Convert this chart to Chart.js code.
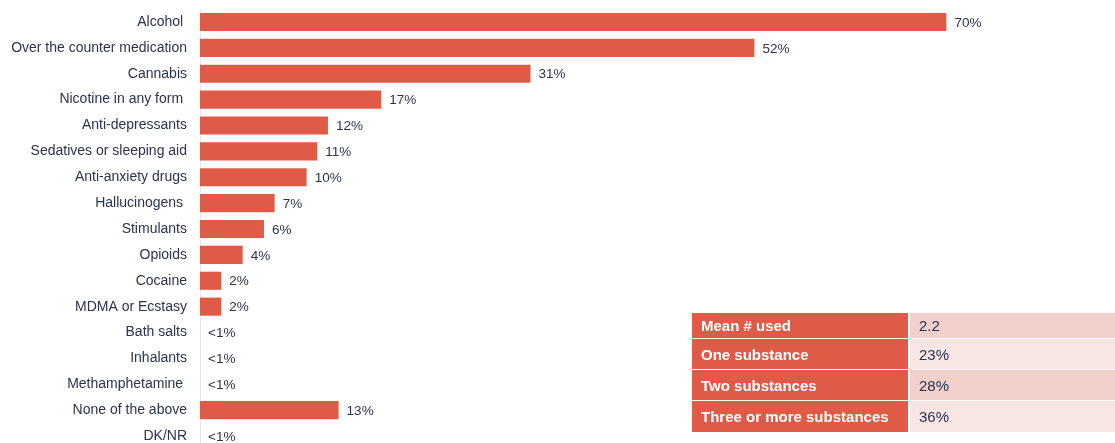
<!DOCTYPE html>
<html>
<head>
<meta charset="utf-8">
<script src="https://cdn.jsdelivr.net/npm/chart.js@4/dist/chart.umd.min.js"></script>
<style>
  html, body { margin: 0; padding: 0; background: #fff; overflow: hidden; }
  #wrap { position: relative; width: 1115px; height: 450px; }
  #summary {
    position: absolute; left: 692px; top: 312px; width: 440px;
    border-collapse: collapse; font-family: "Liberation Sans", Arial, sans-serif; font-size: 15px;
  }
  #summary td { padding: 0 0 0 9px; border-top: 1px solid #fff; border-bottom: 1px solid #fff; }
  #summary td.k { background: #e05a48; color: #fff; font-weight: bold; width: 207px; border-right: 2px solid #fff; }
  #summary td.v { color: #2b3350; }
</style>
</head>
<body>
<div id="wrap">
  <canvas id="Substances" width="1115" height="450"></canvas>
  <table id="summary"></table>
</div>
<script>
var substances = [
  "Alcohol ",
  "Over the counter medication",
  "Cannabis",
  "Nicotine in any form ",
  "Anti-depressants",
  "Sedatives or sleeping aid",
  "Anti-anxiety drugs",
  "Hallucinogens ",
  "Stimulants",
  "Opioids",
  "Cocaine",
  "MDMA or Ecstasy",
  "Bath salts",
  "Inhalants",
  "Methamphetamine ",
  "None of the above",
  "DK/NR",
];
var percentUsed = [70, 52, 31, 17, 12, 11, 10, 7, 6, 4, 2, 2, 0, 0, 0, 13, 0];
var percentLabels = ["70%", "52%", "31%", "17%", "12%", "11%", "10%", "7%", "6%", "4%", "2%", "2%", "<1%", "<1%", "<1%", "13%", "<1%"];

var summaryRows = ["Mean # used", "One substance", "Two substances", "Three or more substances"];
var summaryValues = ["2.2", "23%", "28%", "36%"];

// table bottom right
var rowHeights = [26, 31, 31, 32];
var shades = ["#f2d0cc", "#f8e6e4", "#f2d0cc", "#f8e6e4"];
var table = document.getElementById("summary");
summaryRows.forEach(function (name, i) {
  var tr = document.createElement("tr");
  tr.style.height = rowHeights[i] + "px";
  tr.innerHTML = '<td class="k">' + name + '</td><td class="v" style="background:' + shades[i] + '">' + summaryValues[i] + "</td>";
  table.appendChild(tr);
});

// value labels at the end of each bar
var barLabels = {
  id: "barLabels",
  afterDatasetsDraw: function (chart) {
    var ctx = chart.ctx;
    var meta = chart.getDatasetMeta(0);
    ctx.save();
    ctx.font = "13.5px 'Liberation Sans', Arial, sans-serif";
    ctx.fillStyle = "#2b3350";
    ctx.textAlign = "left";
    ctx.textBaseline = "middle";
    meta.data.forEach(function (bar, i) {
      ctx.fillText(percentLabels[i], bar.x + 8, bar.y + 1);
    });
    ctx.restore();
  },
};

var ctx = document.getElementById("Substances").getContext("2d");
var myChart = new Chart(ctx, {
  type: "bar",
  data: {
    labels: substances,
    datasets: [
      {
        data: percentUsed,
        backgroundColor: "#e05a48",
        barPercentage: 0.7,
        categoryPercentage: 1,
      },
    ],
  },
  options: {
    indexAxis: "y",
    responsive: false,
    animation: false,
    layout: { padding: { top: 9, right: 62, bottom: 1, left: 0 } },
    scales: {
      x: {
        display: false,
        min: 0,
        max: 80,
      },
      y: {
        grid: { display: false, drawTicks: false },
        border: { display: true, color: "#e6e6e6", width: 1 },
        ticks: {
          color: "#2b3350",
          padding: 13,
          font: { family: "'Liberation Sans', Arial, sans-serif", size: 14 },
        },
        afterFit: function (scale) {
          scale.width = 200;
          scale.paddingTop = 0;
          scale.paddingBottom = 0;
        },
      },
    },
    plugins: {
      legend: { display: false },
      tooltip: { enabled: false },
    },
  },
  plugins: [barLabels],
});
</script>
</body>
</html>
